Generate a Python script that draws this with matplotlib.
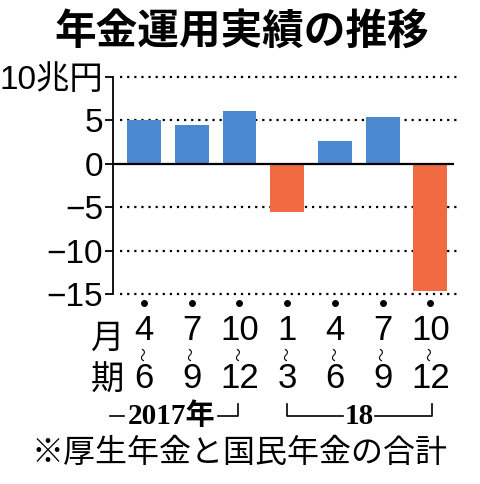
import matplotlib
matplotlib.use('Agg')
import matplotlib.pyplot as plt
import matplotlib.transforms as mtransforms

# データ（兆円）
quarters_start = ['4', '7', '10', '1', '4', '7', '10']
quarters_end = ['6', '9', '12', '3', '6', '9', '12']
returns = [5.0, 4.45, 6.06, -5.5, 2.6, 5.4, -14.7]
y_ticks = [10, 5, 0, -5, -10, -15]
y_labels = ['10兆円', '5', '0', '−5', '−10', '−15']
grid_levels = [10, 5, -5, -10, -15]

BLUE = '#4a88d0'
ORANGE = '#f06a42'
NUM_FONT = ['Liberation Sans Narrow', 'Liberation Sans', 'Noto Sans CJK JP', 'DejaVu Sans']
JP_FONT = ['Noto Sans CJK JP', 'DejaVu Sans']
SERIF_FONT = ['Liberation Serif', 'Noto Sans CJK JP', 'DejaVu Serif']

fig = plt.figure(figsize=(4.8, 4.84), dpi=100)
ax = fig.add_axes([113 / 480, 1 - 294 / 484, (460 - 113) / 480, (294 - 77) / 484])

xs = list(range(len(returns)))
colors = [BLUE if v >= 0 else ORANGE for v in returns]
ax.bar(xs, returns, width=0.71, color=colors, zorder=3)

# 点線グリッドと0の線
ax.hlines(grid_levels, -0.5, 6.62, colors='black', linestyles=(0, (1, 2.2)), linewidth=1.6, zorder=1, clip_on=False)
ax.hlines(0, -0.65, 6.5, colors='black', linewidth=1.6, zorder=4, clip_on=False)

ax.set_xlim(-0.65, 6.62)
ax.set_ylim(-15, 10)
for s in ['top', 'right', 'bottom']:
    ax.spines[s].set_visible(False)
ax.spines['left'].set_linewidth(1.3)
ax.set_xticks([])
ax.set_yticks(y_ticks)
ax.set_yticklabels(y_labels, family=NUM_FONT, fontsize=24)
ax.tick_params(axis='y', length=6, width=1.3, pad=1)

# 下の月ラベル
trans = mtransforms.blended_transform_factory(ax.transData, fig.transFigure)
ax.plot(xs, [1 - 303 / 484] * len(xs), 'o', color='black', markersize=4, transform=trans, clip_on=False)
for x, a, b in zip(xs, quarters_start, quarters_end):
    ax.text(x, 1 - 330 / 484, a, transform=trans, ha='center', va='center', fontsize=25, family=NUM_FONT)
    ax.text(x, 1 - 354 / 484, '〜', transform=trans, ha='center', va='center', fontsize=10,
            rotation=90, family=JP_FONT)
    ax.text(x, 1 - 378 / 484, b, transform=trans, ha='center', va='center', fontsize=25, family=NUM_FONT)
fig.text(107 / 480, 1 - 338 / 484, '月', ha='center', va='center', fontsize=24, family=JP_FONT)
fig.text(107 / 480, 1 - 380 / 484, '期', ha='center', va='center', fontsize=24, family=JP_FONT)

# 年の括弧
by = 1 - 416 / 484
top = 1 - 404 / 484
def fx(px):
    return px / 480
fig.add_artist(plt.Line2D([fx(110), fx(124)], [by, by], color='black', lw=1.2))
fig.add_artist(plt.Line2D([fx(218), fx(238), fx(238)], [by, by, top], color='black', lw=1.2))
fig.text(fx(172), by, '2017年', ha='center', va='center', fontsize=21, weight='bold', family=SERIF_FONT)
fig.add_artist(plt.Line2D([fx(287), fx(287), fx(343)], [top, by, by], color='black', lw=1.2))
fig.add_artist(plt.Line2D([fx(375), fx(432), fx(432)], [by, by, top], color='black', lw=1.2))
fig.text(fx(359), by, '18', ha='center', va='center', fontsize=21, weight='bold', family=SERIF_FONT)

fig.text(fx(240), 1 - 453 / 484, '※厚生年金と国民年金の合計', ha='center', va='center', fontsize=23, family=JP_FONT)
fig.text(fx(242), 1 - 32 / 484, '年金運用実績の推移', ha='center', va='center', fontsize=30, weight='bold', family=JP_FONT)

fig.savefig('out.png', dpi=100)
